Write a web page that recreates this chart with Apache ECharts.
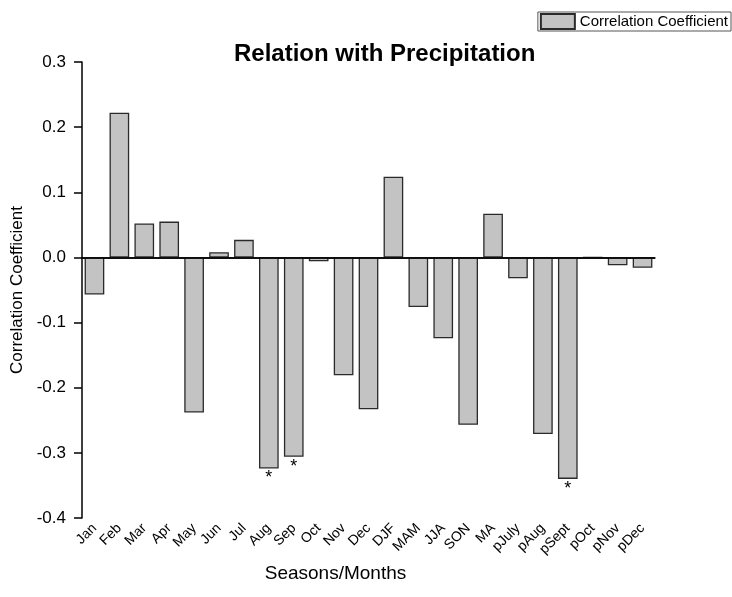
<!DOCTYPE html>
<html>
<head>
<meta charset="utf-8">
<script src="https://cdn.jsdelivr.net/npm/echarts@6/dist/echarts.min.js"></script>
<style>
  html, body { margin: 0; padding: 0; background: #fff; }
  #main { width: 732px; height: 597px; }
</style>
</head>
<body>
<div id="main"></div>
<script>
// categories (months, seasons, previous-year months)
var categories = ['Jan', 'Feb', 'Mar', 'Apr', 'May', 'Jun', 'Jul', 'Aug', 'Sep', 'Oct', 'Nov', 'Dec',
  'DJF', 'MAM', 'JJA', 'SON', 'MA', 'pJuly', 'pAug', 'pSept', 'pOct', 'pNov', 'pDec'];

// correlation coefficient per category
var corr = [-0.057, 0.222, 0.052, 0.055, -0.238, 0.008, 0.027, -0.324, -0.306, -0.006, -0.181, -0.233,
  0.124, -0.076, -0.124, -0.257, 0.067, -0.032, -0.271, -0.340, 0, -0.012, -0.016];

// significance markers
var sig = ['', '', '', '', '', '', '', '*', '*', '', '', '',
  '', '', '', '', '', '', '', '*', '', '', ''];

var yTicks = [-0.4, -0.3, -0.2, -0.1, 0.0, 0.1, 0.2, 0.3];

var font = 'Liberation Sans, Arial, sans-serif';
var myChart = echarts.init(document.getElementById('main'));

var option = {
  backgroundColor: '#fff',
  animation: false,
  textStyle: { fontFamily: font },
  title: {
    text: 'Relation with Precipitation',
    left: 229,
    top: 37,
    textStyle: { fontSize: 24, fontWeight: 'bold', color: '#000', fontFamily: font }
  },
  legend: {
    right: 1,
    top: 12,
    backgroundColor: '#fff',
    borderColor: '#555',
    borderWidth: 1,
    borderRadius: 0,
    padding: [1, 3, 1, 2],
    itemWidth: 34,
    itemHeight: 15,
    itemGap: 4,
    icon: 'rect',
    textStyle: { fontSize: 15, color: '#000', fontFamily: font }
  },
  grid: { left: 82, right: 77, top: 62, bottom: 79 },
  xAxis: {
    type: 'category',
    data: categories,
    name: 'Seasons/Months',
    nameLocation: 'middle',
    nameGap: 45,
    nameTextStyle: { fontSize: 19, color: '#000', fontFamily: font, padding: [0, 66, 0, 0] },
    axisLine: { lineStyle: { color: '#000', width: 1.5 } },
    axisTick: { alignWithLabel: true, length: 6, lineStyle: { color: '#000', width: 1.5 } },
    axisLabel: { rotate: 45, fontSize: 14, color: '#000', margin: 8, interval: 0 }
  },
  yAxis: {
    type: 'value',
    min: yTicks[0],
    max: yTicks[yTicks.length - 1],
    interval: 0.1,
    name: 'Correlation Coefficient',
    nameLocation: 'middle',
    nameGap: 47,
    nameTextStyle: { fontSize: 17, color: '#000', fontFamily: font, padding: [0, 0, 0, 0] },
    axisLine: { show: true, lineStyle: { color: '#000', width: 1.5 } },
    axisTick: { show: true, length: 8, lineStyle: { color: '#000', width: 1.5 } },
    splitLine: { show: false },
    axisLabel: {
      fontSize: 17, color: '#000', margin: 16,
      formatter: function (v) { return v.toFixed(1); }
    }
  },
  series: [{
    name: 'Correlation Coefficient',
    type: 'bar',
    data: corr,
    barCategoryGap: '21%',
    itemStyle: { color: '#c3c3c3', borderColor: '#2a2a2a', borderWidth: 1.3 },
    label: {
      show: true,
      position: 'bottom',
      distance: 1,
      fontSize: 18,
      color: '#000',
      formatter: function (p) { return sig[p.dataIndex]; }
    },
    markLine: {
      silent: true,
      symbol: 'none',
      label: { show: false },
      lineStyle: { color: '#000', width: 1.5, type: 'solid' },
      data: [{ yAxis: 0 }]
    }
  }]
};

myChart.setOption(option);
window.addEventListener('resize', function () { myChart.resize(); });
</script>
</body>
</html>
